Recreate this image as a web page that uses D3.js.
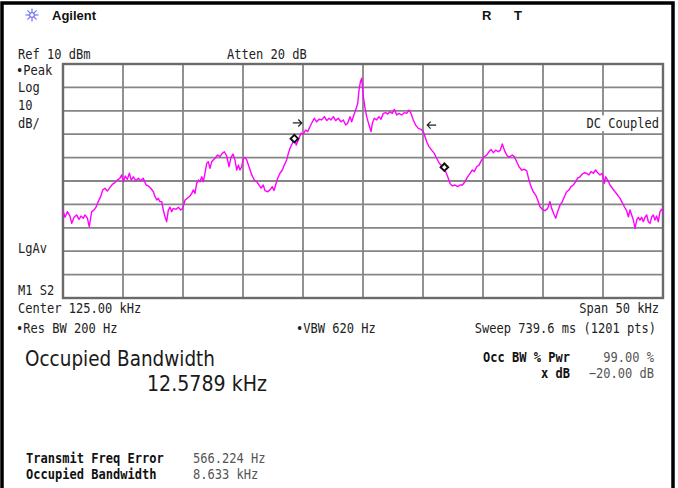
<!DOCTYPE html>
<html>
<head>
<meta charset="utf-8">
<script src="https://cdn.jsdelivr.net/npm/d3@7/dist/d3.min.js"></script>
<style>
  body { margin: 0; background: #fff; }
  svg { display: block; }
  .mono { font-family: "DejaVu Sans Mono", monospace; font-size: 13.4px; fill: #222; }
  .bold { font-weight: bold; fill: #111; }
  .val { fill: #555; }
</style>
</head>
<body>
<svg id="chart" width="678" height="488"></svg>
<script>
// spectrum trace: frequency (kHz) and level (dBm)
const freqKHz = [
  100.0, 100.17, 100.36, 100.58, 100.73, 100.92, 101.14, 101.33, 101.5, 101.69,
  101.83, 102.03, 102.19, 102.39, 102.58, 102.75, 102.94, 103.14, 103.31, 103.5,
  103.69, 103.92, 104.14, 104.33, 104.53, 104.75, 104.89, 105.03, 105.19, 105.36,
  105.53, 105.69, 105.86, 106.08, 106.28, 106.48, 106.69, 106.92, 107.11, 107.31,
  107.53, 107.67, 107.81, 107.94, 108.08, 108.23, 108.36, 108.5, 108.64, 108.78,
  108.92, 109.06, 109.19, 109.42, 109.61, 109.81, 109.98, 110.17, 110.36, 110.58,
  110.73, 110.86, 111.0, 111.14, 111.28, 111.42, 111.56, 111.69, 111.83, 111.98,
  112.11, 112.25, 112.39, 112.58, 112.67, 112.89, 113.08, 113.28, 113.44, 113.64,
  113.83, 114.0, 114.17, 114.33, 114.48, 114.61, 114.75, 114.89, 115.03, 115.17,
  115.31, 115.5, 115.73, 115.94, 116.14, 116.33, 116.5, 116.69, 116.83, 117.06,
  117.25, 117.44, 117.58, 117.72, 117.89, 118.08, 118.28, 118.44, 118.64, 118.78,
  118.92, 119.11, 119.28, 119.44, 119.61, 119.83, 120.03, 120.22, 120.39, 120.58,
  120.78, 120.94, 121.14, 121.33, 121.56, 121.78, 121.98, 122.17, 122.33, 122.53,
  122.72, 122.94, 123.17, 123.36, 123.56, 123.72, 123.92, 124.06, 124.19, 124.39,
  124.56, 124.67, 124.78, 124.89, 125.03, 125.17, 125.31, 125.5, 125.67, 125.78,
  125.94, 126.14, 126.33, 126.5, 126.69, 126.89, 127.06, 127.25, 127.44, 127.61,
  127.81, 128.0, 128.22, 128.44, 128.64, 128.83, 129.0, 129.19, 129.39, 129.61,
  129.83, 130.03, 130.17, 130.31, 130.5, 130.72, 130.94, 131.14, 131.33, 131.5,
  131.69, 131.89, 132.06, 132.25, 132.44, 132.67, 132.89, 133.08, 133.28, 133.5,
  133.72, 133.92, 134.11, 134.28, 134.47, 134.67, 134.89, 135.11, 135.31, 135.5,
  135.67, 135.86, 136.06, 136.28, 136.44, 136.61, 136.78, 136.97, 137.17, 137.44,
  137.61, 137.81, 138.0, 138.22, 138.44, 138.64, 138.83, 139.0, 139.19, 139.39,
  139.56, 139.75, 139.94, 140.17, 140.39, 140.58, 140.72, 140.94, 141.06, 141.22,
  141.42, 141.61, 141.78, 141.97, 142.17, 142.33, 142.53, 142.72, 142.89, 143.08,
  143.28, 143.44, 143.64, 143.83, 144.0, 144.19, 144.39, 144.56, 144.75, 144.94,
  145.11, 145.22, 145.39, 145.58, 145.78, 146.0, 146.22, 146.42, 146.61, 146.78,
  146.97, 147.11, 147.25, 147.39, 147.53, 147.67, 147.81, 147.94, 148.08, 148.22,
  148.36, 148.5, 148.64, 148.78, 148.92, 149.06, 149.19, 149.33, 149.47, 149.61,
  149.75, 149.89, 150.0
];
const levelDbm = [
  -52.8, -55.5, -53.1, -55.0, -58.1, -55.5, -54.5, -56.4, -55.0, -55.9,
  -54.5, -55.9, -59.5, -53.1, -52.4, -51.2, -48.8, -46.7, -43.8, -43.1,
  -44.3, -42.7, -41.3, -40.7, -39.6, -38.8, -37.4, -40.3, -37.9, -39.3,
  -36.7, -39.6, -38.2, -39.9, -38.8, -39.9, -38.8, -41.7, -42.1, -43.1,
  -44.6, -46.7, -48.1, -47.4, -48.8, -48.8, -52.4, -55.3, -57.4, -52.4,
  -51.2, -53.1, -51.7, -52.1, -51.2, -52.4, -51.7, -48.1, -47.4, -46.4,
  -45.3, -43.8, -45.3, -41.0, -39.6, -40.3, -38.2, -40.3, -36.7, -32.4,
  -31.8, -34.6, -31.8, -30.7, -30.3, -28.9, -29.6, -28.2, -27.5, -29.3,
  -33.9, -29.9, -28.5, -31.0, -35.3, -33.2, -35.3, -33.9, -30.3, -29.9,
  -31.0, -33.9, -37.4, -39.6, -40.3, -41.7, -43.1, -41.7, -44.1, -44.6,
  -43.8, -42.4, -44.1, -41.7, -38.8, -36.7, -35.3, -33.2, -31.0, -28.2,
  -26.0, -23.9, -21.6, -24.6, -22.5, -19.6, -19.9, -18.2, -18.9, -16.8,
  -14.7, -13.2, -14.7, -13.6, -13.9, -12.5, -14.2, -13.2, -13.9, -12.5,
  -14.2, -13.2, -14.7, -13.9, -16.1, -15.3, -12.5, -14.7, -12.5, -9.7,
  -6.8, -1.1, 2.3, 3.9, -4.0, -8.9, -12.5, -16.1, -18.9, -15.3,
  -13.2, -13.9, -12.5, -13.6, -11.1, -10.8, -11.4, -10.4, -11.1, -9.4,
  -11.8, -11.1, -11.8, -10.8, -11.1, -9.7, -11.1, -13.9, -16.1, -17.5,
  -17.9, -18.9, -21.1, -23.2, -25.3, -26.8, -28.2, -30.3, -32.2, -33.2,
  -33.9, -36.0, -38.2, -41.0, -42.1, -41.7, -42.4, -41.7, -41.7, -40.3,
  -38.2, -36.7, -35.3, -36.0, -33.9, -33.2, -31.0, -29.6, -28.9, -27.5,
  -26.5, -27.9, -26.8, -27.5, -26.8, -24.2, -26.8, -28.9, -29.9, -28.9,
  -29.6, -31.8, -33.9, -35.3, -35.0, -35.6, -39.6, -42.4, -44.6, -46.0,
  -48.1, -51.0, -52.1, -52.7, -51.7, -48.8, -51.7, -54.5, -55.9, -53.1,
  -50.3, -48.8, -46.7, -44.6, -43.8, -42.4, -41.7, -40.3, -38.8, -38.2,
  -37.0, -36.5, -36.7, -37.4, -36.0, -36.7, -35.3, -36.5, -37.4, -36.7,
  -41.0, -38.2, -39.6, -41.7, -43.1, -44.6, -46.0, -47.4, -49.3, -51.0,
  -52.7, -55.3, -52.4, -54.5, -56.7, -60.2, -56.7, -55.5, -56.7, -55.5,
  -57.4, -55.5, -54.5, -57.4, -58.1, -55.3, -54.5, -56.7, -55.0, -57.4,
  -53.1, -52.1, -53.5
];

// occupied bandwidth edge markers (diamonds) and x dB arrows
const markerFreq = [119.28, 131.78];
const markerLevel = [-21.9, -34.1];
const arrowFreq = [119.9, 130.35];
const arrowLevel = [-15.2, -16.1];
const arrowDir = [1, -1];

// axis settings of the analyzer screen
const refLevel = 10;
const dbPerDiv = 10;
const centerKHz = 125;
const spanKHz = 50;

const svg = d3.select('#chart');

const x = d3.scaleLinear()
    .domain([centerKHz - spanKHz / 2, centerKHz + spanKHz / 2])
    .range([63, 663]);
const y = d3.scaleLinear()
    .domain([refLevel - 10 * dbPerDiv, refLevel])
    .range([298, 64]);

// narrow screen font: tall DejaVu Mono squeezed horizontally
const monoText = (sel, px, py, anchor) => sel
    .attr('transform', `translate(${px},${py}) scale(0.9,1)`)
    .attr('text-anchor', anchor || 'start');

// outer frame of the screenshot
svg.append('rect')
    .attr('x', 2).attr('y', 3)
    .attr('width', 671).attr('height', 500)
    .attr('fill', 'none')
    .attr('stroke', '#000')
    .attr('stroke-width', 3.5);

// Agilent logo
const logo = svg.append('g').attr('transform', 'translate(32,15)').attr('stroke', '#7373f0').attr('stroke-width', 1.2);
for (let a = 0; a < 8; a++) {
    const ang = a * Math.PI / 4;
    logo.append('line')
        .attr('x1', 3 * Math.cos(ang)).attr('y1', 3 * Math.sin(ang))
        .attr('x2', 6.5 * Math.cos(ang)).attr('y2', 6.5 * Math.sin(ang));
}
logo.append('circle').attr('r', 2.4).attr('fill', 'none');

svg.append('text')
    .attr('x', 52).attr('y', 20)
    .style('font-family', 'Arial, "Liberation Sans", sans-serif')
    .style('font-size', '13px').style('font-weight', 'bold')
    .attr('fill', '#111')
    .text('Agilent');

svg.append('text').attr('x', 482).attr('y', 20)
    .style('font-family', 'Arial, "Liberation Sans", sans-serif')
    .style('font-size', '13px').style('font-weight', 'bold').attr('fill', '#111').text('R');
svg.append('text').attr('x', 514).attr('y', 20)
    .style('font-family', 'Arial, "Liberation Sans", sans-serif')
    .style('font-size', '13px').style('font-weight', 'bold').attr('fill', '#111').text('T');

// graticule
const grid = svg.append('g');
grid.selectAll('line.v')
    .data(x.ticks(10).slice(1, -1))
    .join('line')
    .attr('class', 'v')
    .attr('x1', d => x(d)).attr('x2', d => x(d))
    .attr('y1', y.range()[1]).attr('y2', y.range()[0])
    .attr('stroke', '#858585').attr('stroke-width', 1.8);
grid.selectAll('line.h')
    .data(y.ticks(10).slice(1, -1))
    .join('line')
    .attr('class', 'h')
    .attr('x1', x.range()[0]).attr('x2', x.range()[1])
    .attr('y1', d => y(d)).attr('y2', d => y(d))
    .attr('stroke', '#858585').attr('stroke-width', 1.8);
grid.append('rect')
    .attr('x', x.range()[0]).attr('y', y.range()[1])
    .attr('width', x.range()[1] - x.range()[0])
    .attr('height', y.range()[0] - y.range()[1])
    .attr('fill', 'none')
    .attr('stroke', '#6a6a6a').attr('stroke-width', 2.4);

// DC Coupled label sits on a white patch over the grid
const dc = svg.append('text')
    .attr('class', 'mono')
    .text('DC Coupled')
    .call(monoText, 659, 128, 'end');
const bb = dc.node().getBBox();
svg.insert('rect', () => dc.node())
    .attr('x', 659 - bb.width * 0.9 - 1).attr('y', 128 + bb.y)
    .attr('width', bb.width * 0.9 + 2).attr('height', bb.height)
    .attr('fill', '#fff');

// trace
const trace = freqKHz.map((f, i) => ({f: f, v: levelDbm[i]}));
const line = d3.line()
    .x(d => x(d.f))
    .y(d => y(d.v));
svg.append('path')
    .attr('d', line(trace))
    .attr('fill', 'none')
    .attr('stroke', '#ff00ff')
    .attr('stroke-width', 1.4)
    .attr('stroke-linejoin', 'round');

// diamond markers
svg.selectAll('path.marker')
    .data(markerFreq)
    .join('path')
    .attr('class', 'marker')
    .attr('d', d3.symbol(d3.symbolDiamond2, 36))
    .attr('transform', (d, i) => `translate(${x(d)},${y(markerLevel[i])})`)
    .attr('fill', '#fff')
    .attr('stroke', '#111')
    .attr('stroke-width', 2);

// arrows
arrowFreq.forEach((f, i) => {
    const ax = x(f), ay = y(arrowLevel[i]), s = arrowDir[i];
    svg.append('path')
        .attr('d', `M${ax - s * 9},${ay} L${ax},${ay} M${ax - s * 3.5},${ay - 3.5} L${ax},${ay} L${ax - s * 3.5},${ay + 3.5}`)
        .attr('fill', 'none')
        .attr('stroke', '#222')
        .attr('stroke-width', 1.2);
});

// screen annotations
const labels = [
    {t: 'Ref 10 dBm', x: 18, y: 59},
    {t: 'Atten 20 dB', x: 227, y: 59},
    {t: '\u2022Peak', x: 16, y: 75},
    {t: 'Log', x: 18, y: 92},
    {t: '10', x: 18, y: 110},
    {t: 'dB/', x: 18, y: 128},
    {t: 'LgAv', x: 18, y: 253},
    {t: 'M1  S2', x: 18, y: 295},
    {t: 'Center 125.00 kHz', x: 18, y: 313},
    {t: 'Span 50 kHz', x: 659, y: 313, a: 'end'},
    {t: '\u2022Res BW 200 Hz', x: 16, y: 333},
    {t: '\u2022VBW 620 Hz', x: 296, y: 333},
    {t: 'Sweep 739.6 ms (1201 pts)', x: 656, y: 333, a: 'end'}
];
labels.forEach(d => {
    svg.append('text')
        .attr('class', 'mono')
        .text(d.t)
        .call(monoText, d.x, d.y, d.a);
});

// measurement results
const big = {family: '"DejaVu Sans", sans-serif', size: '21px'};
svg.append('text')
    .attr('x', 25).attr('y', 366)
    .attr('textLength', 190).attr('lengthAdjust', 'spacingAndGlyphs')
    .style('font-family', big.family).style('font-size', big.size)
    .attr('fill', '#1a1a1a')
    .text('Occupied Bandwidth');
svg.append('text')
    .attr('x', 147).attr('y', 391)
    .attr('textLength', 120).attr('lengthAdjust', 'spacingAndGlyphs')
    .style('font-family', big.family).style('font-size', big.size)
    .attr('fill', '#1a1a1a')
    .text('12.5789 kHz');

const results = [
    {k: 'Occ BW % Pwr', v: '99.00 %', y: 362},
    {k: 'x dB', v: '\u221220.00 dB', y: 378}
];
results.forEach(r => {
    svg.append('text').attr('class', 'mono bold').text(r.k).call(monoText, 570, r.y, 'end');
    svg.append('text').attr('class', 'mono val').text(r.v).call(monoText, 654, r.y, 'end');
});

const summary = [
    {k: 'Transmit Freq Error', v: '566.224 Hz', y: 463},
    {k: 'Occupied Bandwidth', v: '8.633 kHz', y: 479}
];
summary.forEach(r => {
    svg.append('text').attr('class', 'mono bold').text(r.k).call(monoText, 26, r.y);
    svg.append('text').attr('class', 'mono val').text(r.v).call(monoText, 193, r.y);
});
</script>
</body>
</html>
